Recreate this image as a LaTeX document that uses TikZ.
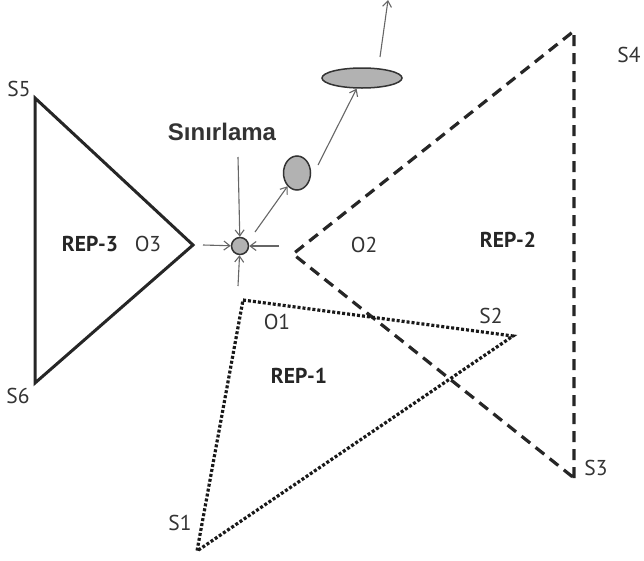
\documentclass[tikz,border=0pt]{standalone}
\usepackage{fontspec}
\setmainfont{PT Sans}
\newfontfamily\arialfont{Liberation Sans}
\usetikzlibrary{arrows.meta,shapes.geometric}
\begin{document}
\begin{tikzpicture}[x=1pt,y=-1pt,
  lbl/.style={font=\fontsize{21.5}{23}\selectfont, text=black!80, inner sep=0pt},
  blbl/.style={font=\fontsize{21.5}{23}\selectfont\bfseries, text=black!85, inner sep=0pt},
  flow/.style={draw=black!60, line width=1.1pt, -{Straight Barb[length=6pt,width=9pt]}},
  blob/.style={draw=black!80, fill=black!30, line width=1.5pt, ellipse, inner sep=0pt},
  solidtri/.style={draw=black!85, line width=3pt, line join=miter},
  dashtri/.style={draw=black!85, line width=3.2pt, dash pattern=on 11pt off 7pt},
  dottri/.style={draw=black!90, line width=3.2pt, dash pattern=on 3pt off 2pt}]
\useasboundingbox (0,0) rectangle (644,560);
% REP-3
\coordinate (S5) at (35,98);
\coordinate (S6) at (35,383);
\coordinate (O3) at (193,245);
\draw[solidtri] (S5) -- (O3) -- (S6) -- cycle;
% REP-2
\coordinate (O2) at (293,254);
\coordinate (S4) at (574,31);
\coordinate (S3) at (574,478);
\draw[dashtri] (S3) -- (S4) -- (O2) -- (S3);
% REP-1
\coordinate (O1) at (243,300);
\coordinate (S2) at (513,336);
\coordinate (S1) at (197,551);
\draw[dottri] (O1) -- (S2) -- (S1) -- cycle;
% labels
\node[lbl] (lS5) at (19,89) {S5};
\node[lbl] (lS6) at (18,396) {S6};
\node[lbl] (lS4) at (629,55) {S4};
\node[lbl] (lS3) at (596,468) {S3};
\node[lbl] (lS2) at (491,316) {S2};
\node[lbl] (lS1) at (180,523) {S1};
\node[lbl] (lO1) at (277,322) {O1};
\node[lbl] (lO2) at (364,245) {O2};
\node[lbl] (lO3) at (148,244) {O3};
\node[blbl] (r3) at (90,244) {REP-3};
\node[blbl] (r2) at (508,240) {REP-2};
\node[blbl] (r1) at (299,376) {REP-1};
\node[font=\arialfont\fontsize{24}{26}\selectfont\bfseries, text=black!80, inner sep=0pt] (sin) at (222,132) {Sınırlama};
% blobs
\node[blob, minimum width=17pt, minimum height=17pt, circle] (c) at (240,246) {};
\node[blob, minimum width=27pt, minimum height=34pt] (e1) at (297,173) {};
\node[blob, minimum width=80pt, minimum height=20pt] (e2) at (362,78) {};
\coordinate (top) at (388,0);
\coordinate (inL) at (203,245);
\coordinate (inR) at (279,246);
\coordinate (inB) at (238,286);
\coordinate (inT) at (238,157);
\coordinate (a1) at (255,232);
\coordinate (a2) at (318,165);
\coordinate (a3) at (380,57);
% flows
\draw[flow] (inL) -- (c);
\draw[flow] (inR) -- (c);
\draw[flow] (inB) -- (c);
\draw[flow] (inT) -- (c);
\draw[flow] (a1) -- (e1);
\draw[flow] (a2) -- (e2);
\draw[flow] (a3) -- (top);
\end{tikzpicture}
\end{document}
